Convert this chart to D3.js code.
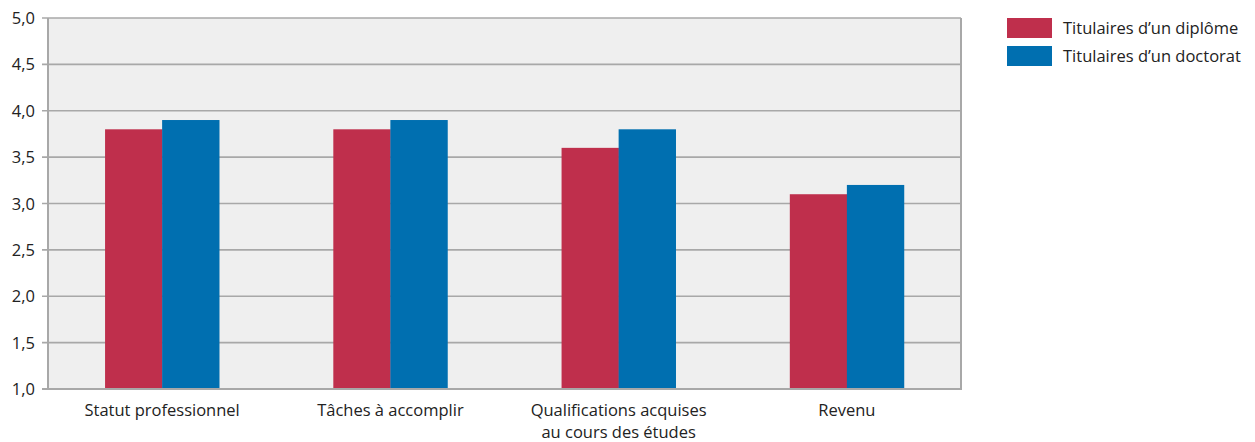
<!DOCTYPE html>
<html><head><meta charset="utf-8">
<script src="https://cdnjs.cloudflare.com/ajax/libs/d3/7.8.5/d3.min.js"></script>
<style>body{margin:0;background:#fff;font-family:"Open Sans","Noto Sans",sans-serif;}</style>
</head><body><svg id="c" width="1255" height="442"></svg>
<script>
const categories = [["Statut professionnel"],["Tâches à accomplir"],["Qualifications acquises","au cours des études"],["Revenu"]];
const seriesNames = ["Titulaires d’un diplôme","Titulaires d’un doctorat"];
const diplome = [3.8, 3.8, 3.6, 3.1];
const doctorat = [3.9, 3.9, 3.8, 3.2];
const ticks = [1.0,1.5,2.0,2.5,3.0,3.5,4.0,4.5,5.0];
const colors = ["#bf2f4c","#006fb0"];

const svg = d3.select("#c");
const L=48, R=961, T=18, B=389;
const FS=16.5;
const x = d3.scaleBand().domain(d3.range(categories.length)).range([L,R]).paddingInner(0.5).paddingOuter(0.25);
const y = d3.scaleLinear().domain([1,5]).range([B,T]);
const fmt = d => d.toFixed(1).replace(".",",");

svg.append("rect").attr("x",L).attr("y",T).attr("width",R-L).attr("height",B-T).attr("fill","#efefef");
svg.append("g").selectAll("line").data(ticks).join("line")
  .attr("x1",L-6).attr("x2",R).attr("y1",d=>y(d)).attr("y2",d=>y(d))
  .attr("stroke","#a8a8a8").attr("stroke-width",1.6);
svg.append("g").selectAll("text").data(ticks).join("text")
  .attr("x",35).attr("y",d=>y(d)+6).attr("text-anchor","end")
  .attr("font-size",FS).attr("fill","#222").text(fmt);

const sub = d3.scaleBand().domain([0,1]).range([0,x.bandwidth()]);
const series=[diplome,doctorat];
series.forEach((s,si)=>{
  svg.append("g").selectAll("rect").data(s).join("rect")
    .attr("x",(d,i)=>x(i)+sub(si)).attr("width",sub.bandwidth()+0.3)
    .attr("y",d=>y(d)).attr("height",d=>y(1)-y(d)).attr("fill",colors[si]);
});
// frame
svg.append("line").attr("x1",L).attr("x2",L).attr("y1",T).attr("y2",B).attr("stroke","#a8a8a8").attr("stroke-width",2);
svg.append("line").attr("x1",R).attr("x2",R).attr("y1",T).attr("y2",B+1).attr("stroke","#a8a8a8").attr("stroke-width",2);
svg.append("line").attr("x1",L-6).attr("x2",R).attr("y1",B).attr("y2",B).attr("stroke","#a8a8a8").attr("stroke-width",2);

const cl = svg.append("g").selectAll("text").data(categories).join("text")
  .attr("x",(d,i)=>x(i)+x.bandwidth()/2).attr("y",416).attr("text-anchor","middle")
  .attr("font-size",FS).attr("fill","#222");
cl.selectAll("tspan").data(d=>d).join("tspan")
  .attr("x",function(){return this.parentNode.getAttribute("x");})
  .attr("dy",(d,j)=>j?22:0).text(d=>d);

const lg = svg.append("g");
seriesNames.forEach((n,i)=>{
  lg.append("rect").attr("x",1007).attr("y",18+i*28).attr("width",45).attr("height",20).attr("fill",colors[i]);
  lg.append("text").attr("x",1063).attr("y",34+i*28).attr("font-size",FS).attr("fill","#222").text(n);
});
</script></body></html>
